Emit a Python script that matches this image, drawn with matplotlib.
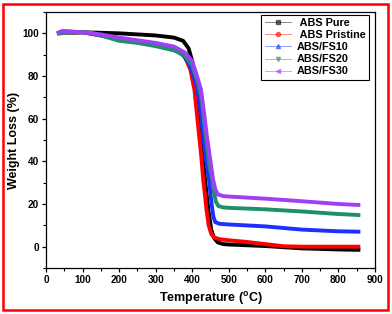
import matplotlib
matplotlib.use("Agg")
import matplotlib.pyplot as plt
from matplotlib.patches import Rectangle
from matplotlib.lines import Line2D
from matplotlib.ticker import MultipleLocator

plt.rcParams['font.family'] = ['Liberation Sans', 'DejaVu Sans']
plt.rcParams['font.weight'] = 'bold'
plt.rcParams['mathtext.fontset'] = 'custom'
plt.rcParams['mathtext.rm'] = 'Liberation Sans:bold'
plt.rcParams['mathtext.bf'] = 'Liberation Sans:bold'

# TGA curves (temperature in C, weight in %)
t_pure = [30, 100, 200, 300, 350, 375, 390, 400, 410, 418, 425, 435, 444, 452,
          460, 470, 485, 500, 600, 700, 800, 860]
w_pure = [100, 100.5, 100, 99, 98, 96.5, 93, 87, 75, 62, 50, 31.5, 17.5, 8,
          4, 2, 1.2, 1, 0.3, -0.8, -1.3, -1.5]

t_prist = [30, 100, 200, 300, 350, 380, 395, 406, 413, 419, 425, 430, 435, 439,
           445, 452, 460, 475, 500, 550, 600, 650, 700, 860]
w_prist = [100, 100.5, 97.5, 95, 93, 89, 83, 73.6, 62, 52, 42, 31.5, 24, 17.5,
           10, 6, 4.3, 3.5, 3, 2.2, 1.2, 0.2, 0, 0]

t_fs10 = [30, 45, 100, 150, 200, 300, 350, 375, 390, 400, 415, 422, 430, 436,
          446, 453, 458, 463, 475, 500, 600, 700, 800, 860]
w_fs10 = [100, 101, 100.5, 99, 97.5, 95, 93, 90, 86, 82, 73.6, 65, 52, 43,
          31.5, 20, 14, 11.5, 10.7, 10.4, 9.5, 8, 7.2, 7]

t_fs20 = [30, 100, 130, 160, 200, 250, 300, 350, 380, 400, 415, 425, 437, 447,
          455, 460, 465, 472, 485, 500, 600, 700, 800, 860]
w_fs20 = [100, 100.5, 100, 98.5, 96.5, 95.5, 94, 92, 89.5, 85, 77, 70, 52, 38,
          31.5, 25, 21, 19, 18.4, 18.2, 17.5, 16.5, 15.3, 14.8]

t_fs30 = [30, 45, 100, 150, 200, 300, 350, 380, 400, 413, 424, 433, 440, 450,
          457, 463, 470, 485, 500, 600, 700, 800, 860]
w_fs30 = [100, 101, 100.5, 99.5, 98, 95.5, 93.8, 91, 87, 80, 73.6, 62, 52, 40,
          31.5, 27, 24.5, 23.7, 23.5, 22.5, 21.3, 20, 19.5]

labels = [" ABS Pure", " ABS Pristine", "ABS/FS10", "ABS/FS20", "ABS/FS30"]
colors = ["black", "#ff0000", "#1f2fff", "#1f8f6a", "#a040f5"]
markers = ["s", "o", "^", "v", "<"]

fig = plt.figure(figsize=(3.92, 3.14), dpi=100)
ax = fig.add_axes([0.1173, 0.1465, 0.8393, 0.8153])

series = [(t_pure, w_pure), (t_prist, w_prist), (t_fs10, w_fs10),
          (t_fs20, w_fs20), (t_fs30, w_fs30)]
for (t, w), c in zip(series, colors):
    ax.plot(t, w, '-', color=c, lw=2.8, solid_joinstyle='round',
            solid_capstyle='butt')

ax.set_xlim(0, 900)
ax.set_ylim(-10, 110)
ax.xaxis.set_major_locator(MultipleLocator(100))
ax.xaxis.set_minor_locator(MultipleLocator(50))
ax.yaxis.set_major_locator(MultipleLocator(20))
ax.yaxis.set_minor_locator(MultipleLocator(10))
ax.set_yticks([0, 20, 40, 60, 80, 100])
ax.tick_params(which='major', direction='out', length=3, width=0.9,
               labelsize=7.2, pad=2)
ax.tick_params(which='minor', direction='out', length=2, width=0.8)
ax.tick_params(top=False, right=False)
for sp in ax.spines.values():
    sp.set_linewidth(0.9)

ax.set_xlabel(r"Temperature ($^{\mathbf{o}}$C)", fontsize=9,
              fontweight='bold', labelpad=4)
ax.set_ylabel("Weight Loss (%)", fontsize=9, fontweight='bold', labelpad=2)

# legend: thin lines with small markers
hs = []
for c, m in zip(colors, markers):
    h = Line2D([0], [0], color=c, lw=0.6, alpha=0.55, marker=m,
               markersize=3, markerfacecolor=c, markeredgecolor=c)
    hs.append(h)
leg = ax.legend(hs, labels, loc='upper right', bbox_to_anchor=(0.982, 0.99),
                fontsize=7.8, frameon=True, fancybox=False, framealpha=1,
                edgecolor='black', handlelength=2.4, handletextpad=0.6,
                labelspacing=0.2, borderpad=0.3, borderaxespad=0)
leg.get_frame().set_linewidth(0.8)
for txt in leg.get_texts():
    txt.set_fontweight('bold')

# red outer border
fig.patches.append(Rectangle((3 / 392, 4 / 314), 385 / 392, 306 / 314,
                             transform=fig.transFigure, fill=False,
                             edgecolor='#ff0000', lw=1.8))

plt.savefig("out.png", dpi=100)
